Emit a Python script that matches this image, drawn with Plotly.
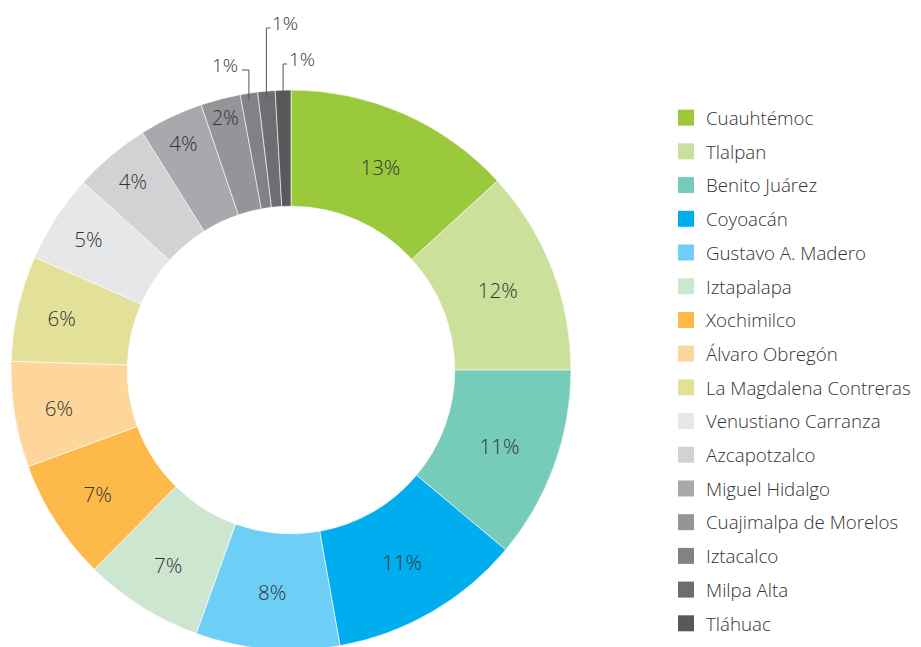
import math
import plotly.graph_objects as go

labels = ["Cuauhtémoc", "Tlalpan", "Benito Juárez", "Coyoacán", "Gustavo A. Madero",
          "Iztapalapa", "Xochimilco", "Álvaro Obregón", "La Magdalena Contreras",
          "Venustiano Carranza", "Azcapotzalco", "Miguel Hidalgo",
          "Cuajimalpa de Morelos", "Iztacalco", "Milpa Alta", "Tláhuac"]
values = [13.2, 11.8, 11.1, 11.1, 8.3, 6.9, 7.0, 6.1, 6.1, 5.1, 4.4, 3.7, 2.3, 1.0, 1.0, 0.9]
colors = ["#9aca3c", "#cbe09a", "#77cbb9", "#00aeef", "#6dcff6", "#cde6d0",
          "#fdb94a", "#fed69b", "#e3e09a", "#e6e7e8", "#d1d2d4", "#a7a9ac",
          "#939598", "#808285", "#6d6e71", "#58595b"]
outside = ["Iztacalco", "Milpa Alta", "Tláhuac"]

W, H = 921, 647
OFF = 8  # page body margin
total = sum(values)
pct = [f"{round(v / total * 100)}%" for v in values]
inside_text = ["" if l in outside else p for l, p in zip(labels, pct)]

FONT = "Open Sans"
TXT = "#333333"

R = 280
cx, cy = 291 - OFF, 370 - OFF
dom_x = [(cx - R) / W, (cx + R) / W]
dom_y = [1 - (cy + R) / H, 1 - (cy - R) / H]

fig = go.Figure()
fig.add_trace(go.Pie(
    labels=labels, values=values, text=inside_text, textinfo="text",
    textposition="inside", insidetextorientation="horizontal",
    sort=False, direction="clockwise", rotation=0, hole=0.585,
    marker=dict(colors=colors, line=dict(color="white", width=0.6)),
    textfont=dict(family=FONT, size=20.5, color=TXT, weight=300),
    domain=dict(x=dom_x, y=dom_y), showlegend=False, hoverinfo="label+percent",
))

# legend via dummy traces
for l, c in zip(labels, colors):
    fig.add_trace(go.Scatter(x=[None], y=[None], mode="markers", name=l,
                             legendgroup=l,
                             marker=dict(symbol="square", size=16, color=c)))

# leader lines for small slices
label_cfg = {"Iztacalco": (70, "left"), "Milpa Alta": (28, "right"), "Tláhuac": (64, "right")}
cum = 0
shapes, annots = [], []
for l, v, p in zip(labels, values, pct):
    mid = cum + v / 2
    cum += v
    if l not in label_cfg:
        continue
    ang = mid / total * 2 * math.pi
    x = cx + R * math.sin(ang)
    y_in = cy - (R - 7) * math.cos(ang)
    ytop, side = label_cfg[l]
    ytop -= OFF
    x2 = x - 7 if side == "left" else x + 4
    line = dict(type="path", xref="paper", yref="paper",
                path=f"M{x/W},{1-y_in/H} L{x/W},{1-ytop/H} L{x2/W},{1-ytop/H}",
                line=dict(color="#555555", width=1))
    shapes.append(line)
    annots.append(dict(x=(x2 - 2) / W if side == "left" else x2 / W,
                       y=1 - (ytop - 5) / H, xref="paper", yref="paper",
                       text=p, showarrow=False,
                       xanchor="right" if side == "left" else "left", yanchor="middle",
                       font=dict(family=FONT, size=19, color=TXT, weight=300)))

fig.update_layout(
    width=W, height=H, margin=dict(l=0, r=0, t=0, b=0),
    paper_bgcolor="white", plot_bgcolor="white",
    xaxis=dict(visible=False), yaxis=dict(visible=False),
    shapes=shapes, annotations=annots,
    legend=dict(x=(667 - OFF - 1) / W, xanchor="left", y=1 - (99 - OFF) / H, yanchor="top",
                font=dict(family=FONT, size=18.7, color=TXT, weight=300),
                tracegroupgap=6.4, itemsizing="trace", bgcolor="rgba(0,0,0,0)"),
)
fig.write_html("out.html")
